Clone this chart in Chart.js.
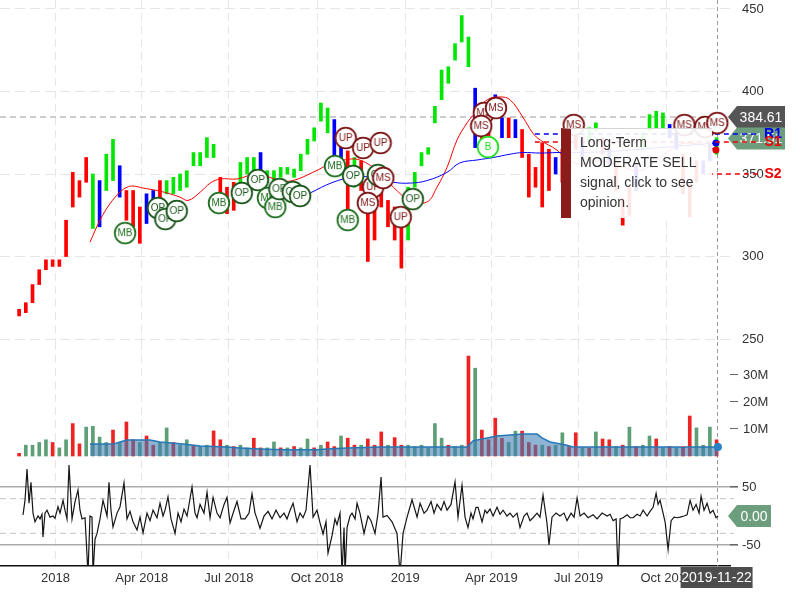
<!DOCTYPE html>
<html>
<head>
<meta charset="utf-8">
<title>Price, volume and oscillator</title>
<script src="https://cdn.jsdelivr.net/npm/chart.js@4.4.1/dist/chart.umd.min.js"></script>
<style>
  body { margin: 0; background: #fff; }
  #wrap { position: relative; width: 800px; height: 600px; overflow: hidden; font-family: "Liberation Sans", Arial, sans-serif; }
  #wrap canvas { position: absolute; left: 0; }
  #opinion {
    position: absolute; left: 561px; top: 128px; width: 151px; height: 90px; box-sizing: border-box;
    border-left: 10px solid #8b1c1c; border-top: 1px solid #d4d4d4;
    background: rgba(255, 255, 255, 0.9); padding: 3px 0 0 9px;
    font-size: 14px; line-height: 20px; color: #333; z-index: 2;
  }
</style>
</head>
<body>
<div id="wrap">
  <canvas id="priceChart" width="800" height="350" style="top:0"></canvas>
  <canvas id="volumeChart" width="800" height="116" style="top:342px"></canvas>
  <canvas id="oscChart" width="800" height="140" style="top:460px"></canvas>
  <div id="opinion">Long-Term<br>MODERATE SELL<br>signal, click to see<br>opinion.</div>
</div>
<script>
const FONT = '"Liberation Sans", Arial, sans-serif';
Chart.defaults.font.family = FONT;
Chart.defaults.color = '#333';

// weekly bars, week 0 = startDate
const startDate = '2017-11-24';
const lastDate = '2019-11-22';
const monthDates = ['2018-01-01', '2018-04-01', '2018-07-01', '2018-10-01', '2019-01-01', '2019-04-01', '2019-07-01', '2019-10-01'];
const monthLabels = ['2018', 'Apr 2018', 'Jul 2018', 'Oct 2018', '2019', 'Apr 2019', 'Jul 2019', 'Oct 2019'];
const priceTicks = [250, 300, 350, 400, 450];
const volumeTicks = [10, 20, 30];
const oscTicks = [-50, 50];
const oscBands = [30, -30];

const priceLow = [264,266,272,283,292,294,294,300,330,336, 345,317,318,340,346,336,322,318,308,320,
  330,332,338,338,340,342,355,355,360,360, 330,326,328,342,350,350,352,345,346,348,
  350,348,352,362,370,382,375,360,355,326, 342,340,297,310,330,318,310,293,310,342,
  355,362,381,395,405,419,430,415,366,369, 372,386,372,372,372,360,336,342,330,340,
  350,345,355,365,360,370,376,362,355,340, 319,325,340,365,376,378,378,372,365,338,
  324,345,350,358,362];
const priceHigh = [268,272,283,292,298,298,298,322,351,346, 360,350,346,362,371,355,340,340,330,338,
  340,346,346,348,350,352,363,363,372,368, 348,342,345,357,360,360,363,352,352,354,
  354,353,362,371,378,393,390,383,369,364, 360,358,340,338,342,334,330,324,342,351,
  363,366,391,413,415,429,446,433,402,385, 385,398,384,384,383,377,362,354,369,365,
  360,365,370,375,372,378,381,372,365,355, 335,342,355,375,386,388,387,380,375,362,
  345,358,358,368,372];
// r = falling, g = rising, b = neutral
const priceTrend = ('rrrrrrrrrrr gbggb rrr bb r gggggggg rrr ggg b gggggggggg bb r g rrrrrrr gggggggggg ' +
  'b rr bb r b rrrrr b rrr b gg r b rrr b gggg bb rrr bb g').replace(/ /g, '').split('');

// moving averages: [week, price]
const fastAverage = [[10.57,308.7],[12.06,322],[13.55,332],[15.05,339],[16.09,342],[16.98,342.7],[18.48,341.5],
  [20.56,340],[22.05,338.5],[24.0,336],[25.2,334],[27.0,339],[28.5,344.5],[30.0,347],[32.5,347],[35.5,350],
  [38.9,346],[40.8,346],[43.8,351],[46.8,357],[48.3,358.5],[50.8,358.5],[53.8,350.6],[55.8,342],[58.3,334],
  [60.8,333],[62.3,342],[63.8,354],[65.3,370.6],[66.8,381],[68.0,387],[69.8,395],[71.7,396.7],[73.2,395],
  [75.1,384.5],[76.6,374.8],[77.7,370.6],[80.2,364.5],[81.4,360],[83.6,356],[86.6,358],[89.6,355],
  [92.6,352],[95.6,360],[98.6,368],[101.5,368],[103.9,364.5]];
const slowAverage = [[43.4,338.5],[46.8,345],[49.8,348],[52.8,348],[55.8,345],[58.3,344.5],[60.8,346],
  [63.8,351],[65.7,356.7],[68.3,358.5],[70.7,360],[73.2,362],[75.1,363],[77.7,362.7],[80.2,363],[83.6,363],
  [89.6,364],[95.6,366],[101.5,368],[103.9,368.8]];

const markerWeek = [15.8,20.7,21.8,23.5,29.8,33.2,35.6,37.1,38.2,38.8,40.8,41.9,47.1,48.7,49.8,49.0,
  51.3,53.9,52.8,53.5,54.3,52.0,56.9,58.7,69.3,68.9,71.1,69.9,82.7,99.2,102.3,104.1];
const markerPrice = [314.2,329.4,322.7,327.6,332.4,338.5,346.4,335.5,330,340.9,339.1,336.7,354.8,371.8,348.8,322.1,
  365.8,368.8,342.1,349.4,347.6,332.4,323.9,334.8,387,379.1,390,366.4,379.7,379.7,378.5,380.9];
const markerText = ['MB','OP','OP','OP','MB','OP','OP','MB','MB','OP','OP','OP','MB','UP','OP','MB',
  'UP','UP','UP','OP','MS','MS','UP','OP','MS','MS','MS','B','MS','MS','MS','MS'];

const prevClose = 384.61;
const lastClose = 371.51;
const levelNames = ['R1', 'S1', 'S2'];
const levelValues = [374.2, 369.4, 350];
const levelStart = [76.9, 76.9, 102.7];

const volume = [1,4,4,5,6,5,3,6,12,4.5, 10.7,11,7,5,9.6,5,12.6,6,5,7.4, 4,5,10.4,5,4,6,4,3.5,4,9.3,
  6,4,3.5,4,3,6.6,3,3,5.2,3, 3,3.5,3,6.3,3,4,5.2,3.5,7.4,6.6, 4,4,6.3,4,8.9,4,6.8,4,4,3.5,
  4,3,12,6.6,4,3.5,4,37,32.5,9.6, 6,14,6.5,5,9.2,9.2,5,4,4,3.5, 4,8.6,3.5,8.6,3,3,8.9,6.3,6,3.5,
  4,10.7,3.5,4,7.4,6.3,3,3.5,3,3.5, 14.8,10.4,4,10.7,6];
const volumeTrend = ('r gggg r gg rr gggg r g rr g rr gg r gg r gg rr g r gg rr gg r g r gg r g rr g rr g rrr ' +
  'g rr gggggg r gg r g rrrr gg rrr g r gg rr g r g rr g r g r gg r g r g rr ggg r').replace(/ /g, '').split('');
const averageVolume = [[10.57,4.4],[14.0,4.4],[15.05,5.2],[16.09,5.9],[19.52,5.9],[21.01,5.2],[24.44,4.4],
  [26.98,3.7],[31.0,3.3],[32.94,3.0],[35.92,2.6],[39.35,2.3],[44.42,2.3],[45.91,2.6],[48.9,3.0],[53.82,3.3],
  [66.79,3.3],[67.68,5.6],[69.77,6.7],[71.26,7.4],[73.2,7.8],[75.14,8.1],[77.23,8.1],[77.97,6.7],[79.17,5.2],
  [81.7,4.0],[82.6,3.3],[98.55,3.3],[99.0,3.0],[99.3,3.3],[104.2,3.3]];

const oscillator = [[0.58,2],[0.88,27],[1.18,81],[1.48,22],[1.77,58],[2.07,5],[2.37,-10],[2.82,0],[3.12,-5],
  [3.41,3],[3.56,-36],[3.86,5],[4.16,10],[4.61,-2],[5.06,0],[5.35,-4],[5.80,16],[6.10,5],[6.55,27],[6.84,10],
  [7.14,-5],[7.44,88],[7.89,-5],[8.33,24],[8.78,45],[9.08,10],[9.38,-5],[9.83,-3],[10.27,-100],[10.57,0],
  [10.87,-2],[11.02,-100],[11.32,-40],[11.62,-30],[12.06,-5],[12.51,27],[13.11,0],[13.40,58],[13.70,10],
  [14.00,-19],[14.60,5],[15.05,16],[15.64,57],[16.09,-5],[16.54,8],[16.98,-10],[17.58,-24],[18.03,-2],
  [18.48,-29],[19.07,5],[19.52,-8],[19.97,10],[20.56,-3],[21.01,22],[21.46,0],[21.76,10],[22.20,33],
  [22.65,-5],[23.25,-30],[23.70,5],[24.14,-10],[24.59,12],[25.04,0],[25.78,50],[26.23,5],[26.53,-3],
  [26.98,20],[27.57,5],[28.02,41],[28.47,-3],[28.92,32],[29.51,5],[29.96,-3],[30.56,20],[31.00,32],
  [31.45,-12],[32.05,10],[32.49,25],[33.09,-5],[33.69,-5],[34.28,5],[34.73,38],[35.18,5],[35.48,-5],
  [35.92,-21],[36.52,0],[37.12,8],[37.71,-5],[38.31,10],[38.91,-3],[39.50,5],[39.95,-5],[40.40,10],
  [40.85,22],[41.44,-10],[41.89,5],[42.34,-3],[42.78,10],[43.38,88],[43.83,-2],[44.42,10],[44.87,-12],
  [45.32,-31],[45.76,-10],[46.06,-64],[46.66,-34],[47.10,-5],[47.40,-15],[47.85,5],[48.15,-100],
  [48.45,-20],[48.60,-100],[48.90,-20],[49.34,0],[49.64,5],[50.09,-5],[50.39,22],[50.82,5],[51.43,-30],
  [52.03,0],[52.47,-8],[53.07,-30],[53.52,5],[53.97,67],[54.26,-2],[54.86,1],[55.61,-10],[56.35,-30],
  [56.80,-100],[57.25,-30],[57.85,-2],[58.59,28],[59.34,-2],[59.79,22],[60.38,5],[60.83,10],[61.42,25],
  [61.87,5],[62.32,20],[62.92,10],[63.36,25],[63.81,10],[64.40,20],[65.00,59],[65.44,-2],[66.04,53],
  [66.49,-2],[66.93,-20],[67.38,5],[67.68,-5],[68.13,15],[68.43,15],[69.03,-10],[69.47,10],[69.77,5],
  [70.22,12],[70.67,0],[71.26,15],[71.71,3],[72.16,10],[72.75,0],[73.20,5],[73.65,-2],[74.25,5],
  [74.69,-20],[75.29,0],[75.73,5],[76.18,-8],[76.63,-3],[77.23,5],[77.67,-2],[78.12,36],[78.71,-12],
  [79.01,-50],[79.46,-2],[80.06,5],[80.65,0],[81.25,5],[81.70,-8],[82.30,5],[82.75,-2],[83.20,31],
  [83.65,0],[84.24,5],[84.84,-3],[85.59,2],[86.18,-5],[86.93,5],[87.68,0],[88.12,3],[88.57,-8],[89.02,-5],
  [89.31,-100],[89.61,-5],[90.06,-3],[90.66,2],[91.10,-3],[91.55,-3],[92.15,3],[92.60,0],[93.04,10],
  [93.64,0],[94.08,8],[94.53,15],[94.98,39],[95.28,20],[95.57,27],[96.02,5],[96.32,-10],[96.77,-58],
  [97.22,-8],[97.67,-2],[98.12,-3],[98.55,-2],[99.15,0],[99.60,2],[100.05,27],[100.49,10],[100.94,20],
  [101.39,5],[101.69,34],[102.13,10],[102.58,22],[103.03,5],[103.47,10],[103.92,-3],[104.22,0]];
const oscLast = 0;

const trendColors = { r: '#ff0000', g: '#00e600', b: '#0000ff' };
const volumeColors = { r: '#ec2424', g: '#5f9f77' };
const markerColors = { MB: '#1f6f1f', OP: '#1a561a', UP: '#7a1515', MS: '#7a1515', B: '#22e022' };

const weekOf = d => (Date.parse(d) - Date.parse(startDate)) / (7 * 864e5);
const monthWeeks = monthDates.map(weekOf);
const lastWeek = weekOf(lastDate);
const xMin = -2.85, xMax = 106;
const pts = arr => arr.map(p => ({ x: p[0], y: p[1] }));
const lastOnly = r => ctx => ctx.dataIndex === ctx.dataset.data.length - 1 ? r : 0;

function markerIcon(text) {
  const c = document.createElement('canvas');
  c.width = 24; c.height = 24;
  const g = c.getContext('2d');
  g.beginPath(); g.arc(12, 12, 10.3, 0, Math.PI * 2);
  g.fillStyle = '#fff'; g.fill();
  g.lineWidth = 1.8; g.strokeStyle = markerColors[text]; g.stroke();
  g.fillStyle = markerColors[text];
  g.font = '10px ' + FONT; g.textAlign = 'center'; g.textBaseline = 'middle';
  g.fillText(text, 12, 12.5);
  return c;
}
const icons = {};
markerText.forEach(t => { if (!icons[t]) icons[t] = markerIcon(t); });

function xAxis(withLabels) {
  return {
    type: 'linear', min: xMin, max: xMax, offset: false,
    afterBuildTicks: s => { s.ticks = monthWeeks.map(v => ({ value: v })); },
    afterFit: s => { s.height = withLabels ? 34 : 0; s.paddingLeft = 0; s.paddingRight = 0; },
    grid: { color: '#e6e6e6', drawTicks: false, offset: false },
    border: { display: withLabels, color: '#111', width: 1.5, dash: [8, 5] },
    ticks: { display: withLabels, autoSkip: false, maxRotation: 0, padding: 5, color: '#333',
      font: { size: 13 }, callback: (v, i) => monthLabels[i] }
  };
}
function yAxis(min, max, ticks, extra) {
  return Object.assign({
    position: 'right', min: min, max: max,
    afterBuildTicks: s => { s.ticks = ticks.map(v => ({ value: v })); },
    afterFit: s => { s.width = 70; s.paddingTop = 0; s.paddingBottom = 0; },
  }, extra);
}
const baseOptions = () => ({
  responsive: false, animation: false, events: [],
  layout: { autoPadding: false, padding: 0 },
  plugins: { legend: { display: false }, tooltip: { enabled: false } }
});

function drawTag(c, x, y, w, text, color) {
  c.save();
  c.fillStyle = color;
  c.beginPath();
  c.moveTo(x, y); c.lineTo(x + 9, y - 11); c.lineTo(x + w, y - 11);
  c.lineTo(x + w, y + 11); c.lineTo(x + 9, y + 11); c.closePath(); c.fill();
  c.fillStyle = '#fff'; c.font = '14px ' + FONT; c.textAlign = 'center'; c.textBaseline = 'middle';
  c.fillText(text, x + 9 + (w - 9) / 2, y + 1);
  c.restore();
}

const dateLine = {
  id: 'dateLine',
  beforeDatasetsDraw(chart) {
    const c = chart.ctx, x = Math.round(chart.scales.x.getPixelForValue(lastWeek)) + 0.5;
    c.save(); c.strokeStyle = '#9a9a9a'; c.lineWidth = 1; c.setLineDash([4, 3]);
    c.beginPath(); c.moveTo(x, 0); c.lineTo(x, chart.chartArea.bottom); c.stroke(); c.restore();
  }
};

const priceTags = {
  id: 'priceTags',
  beforeDatasetsDraw(chart) {
    const y = chart.scales.y, x0 = chart.chartArea.right - 2;
    drawTag(chart.ctx, x0, y.getPixelForValue(prevClose), 57, prevClose.toFixed(2), '#555');
    drawTag(chart.ctx, x0, y.getPixelForValue(lastClose), 57, lastClose.toFixed(2), '#6c9e7e');
  },
  afterDraw(chart) {
    const c = chart.ctx, y = chart.scales.y;
    c.save(); c.font = 'bold 14px ' + FONT; c.textAlign = 'center'; c.textBaseline = 'middle';
    levelNames.forEach((n, i) => {
      c.fillStyle = i === 0 ? '#0000ee' : '#ee0000';
      c.fillText(n, chart.chartArea.right + 43, y.getPixelForValue(levelValues[i]));
    });
    c.restore();
  }
};

const oscTags = {
  id: 'oscTags',
  afterDraw(chart) {
    const c = chart.ctx, area = chart.chartArea;
    drawTag(c, area.right - 2, chart.scales.y.getPixelForValue(oscLast), 43, oscLast.toFixed(2), '#6c9e7e');
    const cx = chart.scales.x.getPixelForValue(lastWeek);
    c.save();
    c.fillStyle = '#4d4d4d'; c.fillRect(cx - 36, area.bottom + 1, 72, 21);
    c.fillStyle = '#fff'; c.font = '14px ' + FONT; c.textAlign = 'center'; c.textBaseline = 'middle';
    c.fillText(lastDate, cx, area.bottom + 12);
    c.restore();
  }
};

// price panel
const priceOptions = baseOptions();
priceOptions.layout = { autoPadding: false, padding: { top: 0, left: 0, right: 0, bottom: 8 } };
priceOptions.scales = {
  x: xAxis(false),
  y: yAxis(248.2, 455.45, priceTicks, {
    grid: { color: '#e6e6e6', drawTicks: false },
    border: { display: false, dash: [10, 5] },
    ticks: { padding: 12, color: '#333', font: { size: 13 } }
  })
};
new Chart(document.getElementById('priceChart'), {
  type: 'bar',
  data: {
    datasets: [
      { type: 'line', data: [{ x: xMin, y: prevClose }, { x: 105.7, y: prevClose }], borderColor: '#bdbdbd',
        borderWidth: 1.5, borderDash: [6, 4], pointRadius: 0, clip: false, order: 7 },
      { type: 'bar', data: priceLow.map((lo, i) => ({ x: i, y: [lo, priceHigh[i]] })),
        backgroundColor: priceTrend.map(t => trendColors[t]), barThickness: 3, order: 6 },
      { type: 'line', data: pts(fastAverage), borderColor: '#ff0000', borderWidth: 1, tension: 0.4,
        pointRadius: lastOnly(3.5), pointBackgroundColor: '#e00000', pointBorderWidth: 0, order: 5 },
      { type: 'line', data: pts(slowAverage), borderColor: '#0000ff', borderWidth: 1, tension: 0.4,
        pointRadius: lastOnly(3.5), pointBackgroundColor: '#0000ee', pointBorderWidth: 0, order: 4 },
      ...levelNames.map((n, i) => ({
        type: 'line', data: [{ x: levelStart[i], y: levelValues[i] }, { x: 110.5, y: levelValues[i] }],
        borderColor: i === 0 ? '#0000ee' : '#ee0000', borderWidth: 1.5, borderDash: [5, 4],
        pointRadius: 0, clip: false, order: 3
      })),
      { type: 'scatter', data: markerWeek.map((w, i) => ({ x: w, y: markerPrice[i] })),
        pointStyle: markerText.map(t => icons[t]), pointRadius: 11, clip: false, order: 1 }
    ]
  },
  options: priceOptions,
  plugins: [dateLine, priceTags]
});

// volume panel
const volumeOptions = baseOptions();
volumeOptions.scales = {
  x: xAxis(false),
  y: yAxis(-0.74, 42.2, volumeTicks, {
    grid: { drawOnChartArea: false, drawTicks: true, tickLength: 8, tickColor: '#666' },
    border: { display: false },
    ticks: { padding: 5, color: '#333', font: { size: 13 }, callback: v => v + 'M' }
  })
};
new Chart(document.getElementById('volumeChart'), {
  type: 'bar',
  data: {
    datasets: [
      { type: 'bar', data: volume.map((v, i) => ({ x: i, y: v })),
        backgroundColor: volumeTrend.map(t => volumeColors[t]), barThickness: 3, order: 2 },
      { type: 'line', data: pts(averageVolume), borderColor: '#2677b5', borderWidth: 1.5,
        backgroundColor: 'rgba(62, 124, 180, 0.58)', fill: 'origin', clip: false,
        pointRadius: lastOnly(4), pointBackgroundColor: '#2a80c4', pointBorderWidth: 0, order: 1 }
    ]
  },
  options: volumeOptions,
  plugins: [dateLine]
});

// oscillator panel
const oscOptions = baseOptions();
oscOptions.scales = {
  x: xAxis(true),
  y: yAxis(-86.2, 96.55, oscTicks, {
    grid: { color: '#ababab', lineWidth: 1.6, drawTicks: true, tickLength: 8, tickColor: '#666' },
    border: { display: false },
    ticks: { padding: 4, color: '#333', font: { size: 13 } }
  })
};
new Chart(document.getElementById('oscChart'), {
  type: 'line',
  data: {
    datasets: [
      ...oscBands.map(v => ({
        data: [{ x: xMin, y: v }, { x: 106.6, y: v }], borderColor: '#cfcfcf', borderWidth: 1.2,
        borderDash: [6, 4], pointRadius: 0, clip: false, order: 2
      })),
      { data: pts(oscillator), borderColor: '#151515', borderWidth: 1.2, pointRadius: 0, order: 1 }
    ]
  },
  options: oscOptions,
  plugins: [dateLine, oscTags]
});
</script>
</body>
</html>
